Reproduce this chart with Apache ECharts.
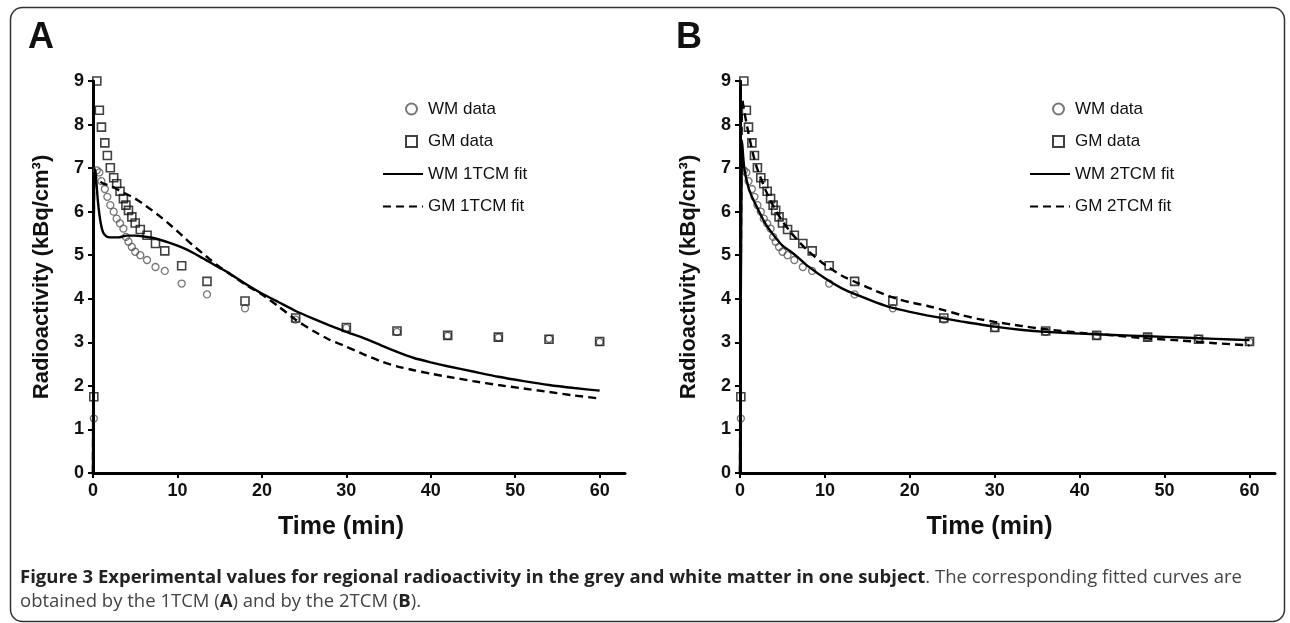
<!DOCTYPE html>
<html><head><meta charset="utf-8">
<script src="https://cdn.jsdelivr.net/npm/echarts@6/dist/echarts.min.js"></script>
<style>html,body{margin:0;padding:0;background:#fff}#c{width:1290px;height:623px}</style>
</head><body><div id="c"></div>
<script>
// Frame mid-times (min) and measured regional radioactivity (kBq/cm3)
const frameTimes = [0.1, 0.45, 0.75, 1.0, 1.4, 1.7, 2.05, 2.45, 2.8, 3.2, 3.6, 3.9, 4.2, 4.6, 5.0, 5.6, 6.4, 7.4, 8.5, 10.5, 13.5, 18, 24, 30, 36, 42, 48, 54, 60];
const wmData = [1.25, 6.95, 6.9, 6.7, 6.52, 6.34, 6.15, 6.0, 5.84, 5.73, 5.61, 5.42, 5.31, 5.19, 5.08, 5.0, 4.89, 4.73, 4.64, 4.35, 4.1, 3.78, 3.52, 3.33, 3.24, 3.15, 3.11, 3.08, 3.01];
const gmData = [1.75, 9.0, 8.33, 7.94, 7.58, 7.29, 7.01, 6.78, 6.64, 6.47, 6.30, 6.15, 6.03, 5.88, 5.74, 5.59, 5.46, 5.27, 5.10, 4.76, 4.40, 3.95, 3.56, 3.34, 3.26, 3.16, 3.12, 3.07, 3.02];

// Panel A: 1TCM fits
const fitTimesA = [0, 0.15, 0.3, 0.6, 0.9, 1.2, 1.6, 2, 3, 4, 5, 6, 7, 8, 9, 10, 11, 12, 13, 14, 15, 16, 18, 20, 22, 24, 26, 28, 30, 32, 34, 36, 38, 40, 42, 45, 48, 51, 54, 57, 60];
const wm1tcm = [0, 7.0, 6.9, 6.2, 5.75, 5.52, 5.43, 5.41, 5.41, 5.45, 5.45, 5.43, 5.40, 5.35, 5.29, 5.22, 5.14, 5.04, 4.93, 4.82, 4.71, 4.6, 4.35, 4.12, 3.92, 3.72, 3.55, 3.39, 3.24, 3.1, 2.94, 2.78, 2.64, 2.54, 2.45, 2.33, 2.21, 2.11, 2.02, 1.95, 1.89];
const gm1tcm = [0, 6.9, 6.8, 6.72, 6.68, 6.65, 6.62, 6.6, 6.5, 6.4, 6.3, 6.17, 6.03, 5.88, 5.72, 5.55, 5.37, 5.2, 5.04, 4.88, 4.73, 4.6, 4.33, 4.1, 3.82, 3.52, 3.27, 3.06, 2.9, 2.73, 2.57, 2.45, 2.36, 2.28, 2.21, 2.11, 2.02, 1.94, 1.86, 1.78, 1.71];

// Panel B: 2TCM fits
const fitTimesB = [0, 0.25, 0.5, 1, 1.5, 2, 3, 4, 5, 6, 7, 8, 10, 12, 14, 16, 18, 20, 22, 24, 26, 28, 30, 33, 36, 40, 44, 48, 52, 56, 60];
const wm2tcm = [0, 7.6, 7.0, 6.55, 6.3, 6.1, 5.72, 5.45, 5.22, 5.08, 4.92, 4.75, 4.47, 4.24, 4.07, 3.92, 3.79, 3.7, 3.62, 3.55, 3.48, 3.42, 3.36, 3.29, 3.24, 3.2, 3.17, 3.14, 3.11, 3.08, 3.05];
const gm2tcm = [0, 8.6, 8.3, 7.8, 7.35, 7.0, 6.5, 6.1, 5.78, 5.52, 5.3, 5.1, 4.78, 4.53, 4.35, 4.18, 4.03, 3.92, 3.84, 3.74, 3.63, 3.54, 3.47, 3.38, 3.3, 3.22, 3.16, 3.09, 3.04, 2.98, 2.93];

const xTicks = [0, 10, 20, 30, 40, 50, 60];

const zip = (a, b) => a.map((v, i) => [v, b[i]]);
const FONT = 'Liberation Sans, Arial, sans-serif';

function xAxis(idx) {
  return {
    type: 'value', gridIndex: idx, min: 0, max: 63,
    name: 'Time (min)', nameLocation: 'middle', nameGap: 42,
    nameTextStyle: {fontFamily: FONT, fontWeight: 'bold', fontSize: 25, color: '#111', padding: [0, 36, 0, 0]},
    axisLine: {lineStyle: {color: '#000', width: 3}},
    axisTick: {customValues: xTicks, length: 5, lineStyle: {color: '#000', width: 2}},
    axisLabel: {customValues: xTicks, fontFamily: FONT, fontWeight: 'bold', fontSize: 18, color: '#111', margin: 9},
    splitLine: {show: false}
  };
}
function yAxis(idx) {
  return {
    type: 'value', gridIndex: idx, min: 0, max: 9, interval: 1,
    name: 'Radioactivity (kBq/cm\u00B3)', nameLocation: 'middle', nameGap: 40, nameRotate: 90,
    nameTextStyle: {fontFamily: FONT, fontWeight: 'bold', fontSize: 22, color: '#111'},
    axisLine: {show: true, lineStyle: {color: '#000', width: 3}},
    axisTick: {show: true, length: 5, lineStyle: {color: '#000', width: 2}},
    axisLabel: {fontFamily: FONT, fontWeight: 'bold', fontSize: 18, color: '#111', margin: 9},
    splitLine: {show: false}
  };
}
function dataSeries(idx) {
  return [
    {name: 'WM data', type: 'scatter', xAxisIndex: idx, yAxisIndex: idx, data: zip(frameTimes, wmData),
     symbol: 'circle', symbolSize: 7, z: 3,
     itemStyle: {color: 'rgba(255,255,255,0)', borderColor: '#555', borderWidth: 1.3}},
    {name: 'GM data', type: 'scatter', xAxisIndex: idx, yAxisIndex: idx, data: zip(frameTimes, gmData),
     symbol: 'rect', symbolSize: 8, z: 4,
     itemStyle: {color: 'rgba(255,255,255,0)', borderColor: '#111', borderWidth: 1.6}}
  ];
}
function fitSeries(idx, name, t, v, dashed) {
  return {name: name, type: 'line', xAxisIndex: idx, yAxisIndex: idx, data: zip(t, v),
    symbol: 'none', smooth: 0.2, z: 5,
    lineStyle: {color: '#000', width: 2.4, type: dashed ? [8, 5] : 'solid'},
    itemStyle: {color: 'rgba(0,0,0,0)', borderWidth: 0}};
}
function legends(leftSym, leftLine, names) {
  const ts = {fontFamily: FONT, fontSize: 17, color: '#111', lineHeight: 20};
  return [
    {left: leftSym, top: 94, orient: 'vertical', itemWidth: 11, itemHeight: 11, itemGap: 12.5,
     data: ['WM data', 'GM data'], textStyle: Object.assign({padding: [0, 0, 0, 6]}, ts), selectedMode: false},
    {left: leftLine, top: 159, orient: 'vertical', itemWidth: 40, itemHeight: 14, itemGap: 12.5,
     data: names, textStyle: ts, selectedMode: false,
     itemStyle: {opacity: 0}}
  ];
}

const chart = echarts.init(document.getElementById('c'), null, {renderer: 'canvas'});
chart.setOption({
  backgroundColor: '#fff',
  animation: false,
  grid: [
    {left: 93, top: 81, width: 532, height: 392},
    {left: 740, top: 81, width: 535, height: 392}
  ],
  xAxis: [xAxis(0), xAxis(1)],
  yAxis: [yAxis(0), yAxis(1)],
  legend: [].concat(legends(400, 377, ['WM 1TCM fit', 'GM 1TCM fit']), legends(1047, 1024, ['WM 2TCM fit', 'GM 2TCM fit'])),
  series: [].concat(
    dataSeries(0),
    [fitSeries(0, 'WM 1TCM fit', fitTimesA, wm1tcm, false), fitSeries(0, 'GM 1TCM fit', fitTimesA, gm1tcm, true)],
    dataSeries(1),
    [fitSeries(1, 'WM 2TCM fit', fitTimesB, wm2tcm, false), fitSeries(1, 'GM 2TCM fit', fitTimesB, gm2tcm, true)]
  ),
  graphic: [
    {type: 'rect', shape: {x: 10.5, y: 7.5, width: 1274, height: 614, r: 12}, style: {fill: 'none', stroke: '#333', lineWidth: 1.5}, silent: true},
    {type: 'text', left: 28, top: 20, style: {text: 'A', font: 'bold 36px Liberation Sans, Arial, sans-serif', fill: '#111'}},
    {type: 'text', left: 676, top: 20, style: {text: 'B', font: 'bold 36px Liberation Sans, Arial, sans-serif', fill: '#111'}},
    {type: 'text', left: 20, top: 568, style: {
      text: '{b|Figure 3 Experimental values for regional radioactivity in the grey and white matter in one subject}{n|. The corresponding fitted curves are}\n{n|obtained by the 1TCM (}{b|A}{n|) and by the 2TCM (}{b|B}{n|).}',
      rich: {
        b: {fontFamily: 'Open Sans, sans-serif', fontWeight: 'bold', fontSize: 18.5, fill: '#222', lineHeight: 24},
        n: {fontFamily: 'Open Sans, sans-serif', fontSize: 18.5, fill: '#444', lineHeight: 24}
      }
    }}
  ]
});
</script>
</body></html>
